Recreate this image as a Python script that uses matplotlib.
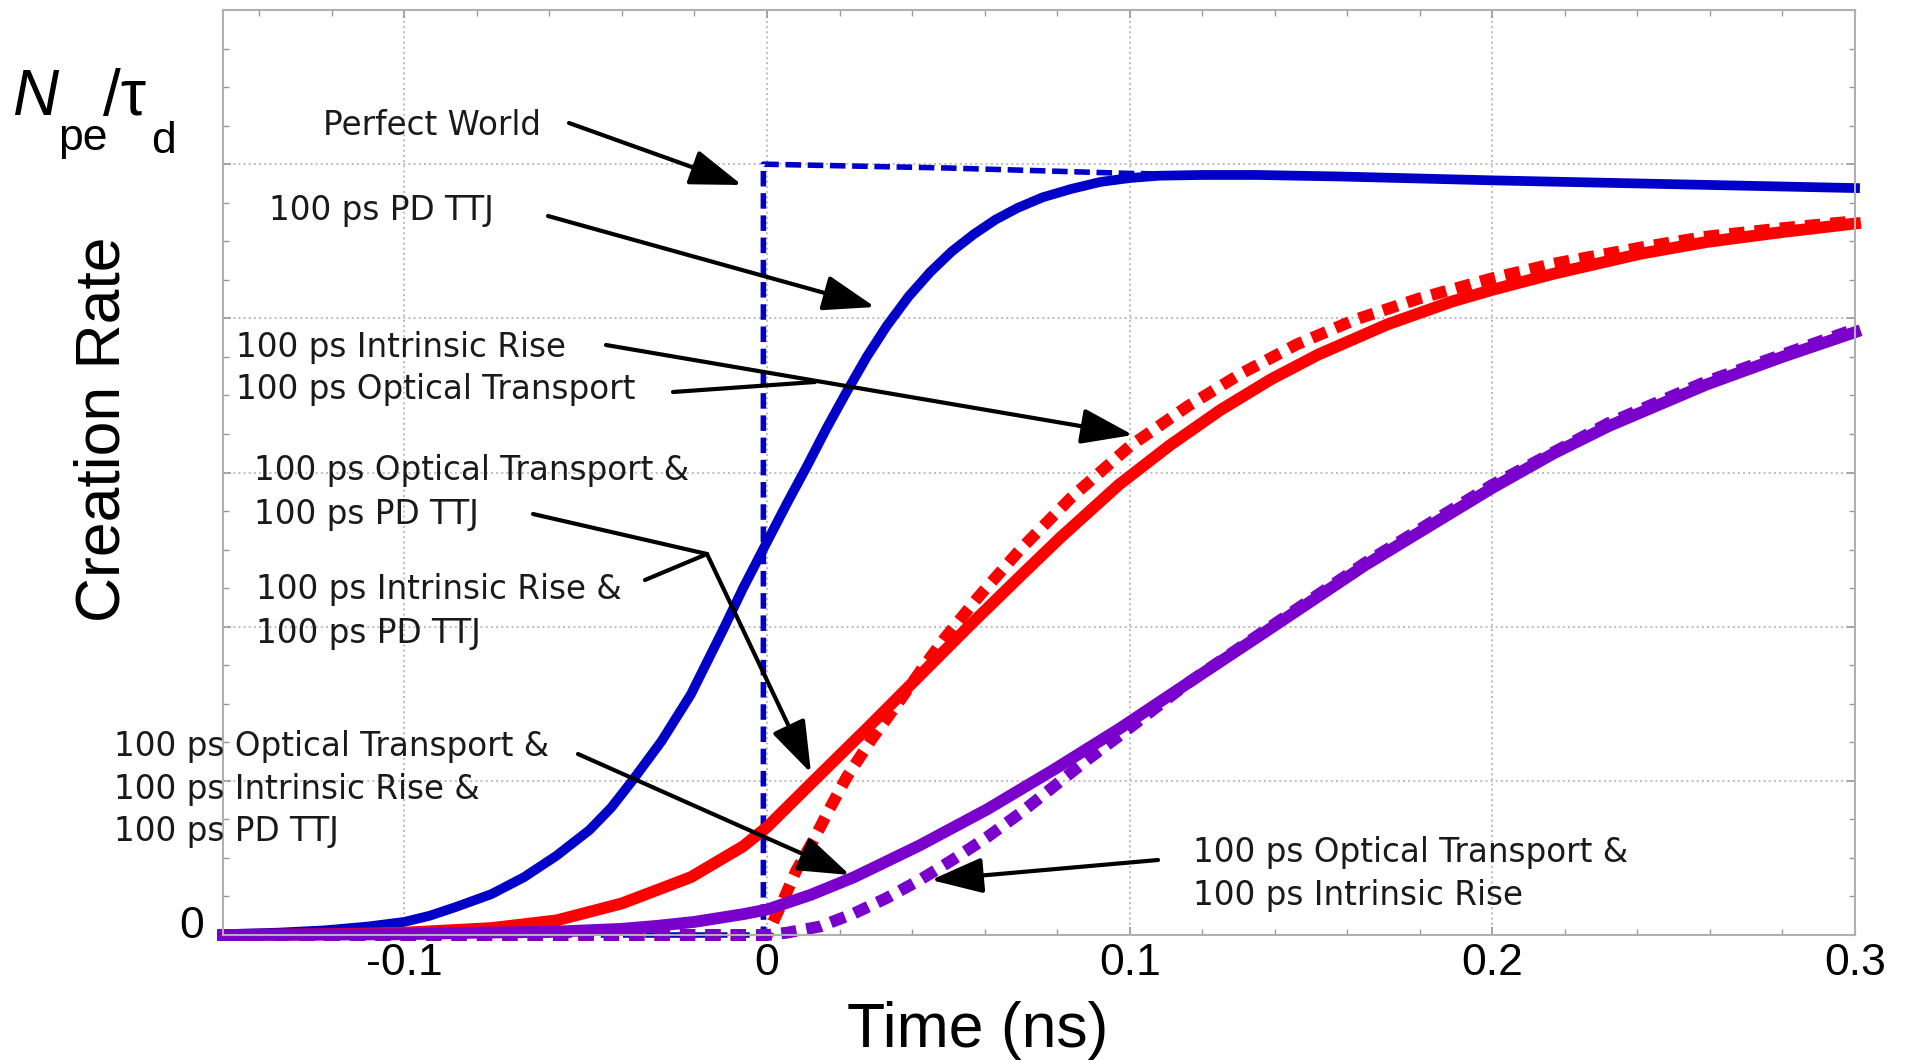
import matplotlib
matplotlib.use("Agg")
import matplotlib.pyplot as plt
from matplotlib.lines import Line2D
from matplotlib.ticker import FixedLocator, FixedFormatter, MultipleLocator
from matplotlib.transforms import ScaledTranslation

plt.rcParams["font.family"] = ["Liberation Sans", "DejaVu Sans"]

# ---- curves (time in ns, rate normalised to N_pe/tau_d) ----
t_perfect = [-0.15, -0.001, -0.001, 0.05, 0.1, 0.15, 0.2, 0.25, 0.3]
rate_perfect = [0.0, 0.0, 1.0, 0.995, 0.988, 0.984, 0.979, 0.974, 0.969]

t_pd = [-0.15, -0.135, -0.122, -0.11, -0.1, -0.093, -0.086, -0.076, -0.067, -0.058,
        -0.049, -0.043, -0.037, -0.029, -0.021, -0.012, -0.0066, 0.0, 0.0055, 0.011,
        0.0165, 0.022, 0.0275, 0.033, 0.039, 0.045, 0.051, 0.057, 0.063, 0.069,
        0.076, 0.084, 0.092, 0.1, 0.108, 0.12, 0.135, 0.158, 0.2, 0.25, 0.3]
rate_pd = [0.001, 0.003, 0.006, 0.011, 0.017, 0.025, 0.036, 0.053, 0.075, 0.103,
           0.136, 0.165, 0.201, 0.252, 0.312, 0.397, 0.45, 0.51, 0.56, 0.608,
           0.658, 0.705, 0.75, 0.79, 0.828, 0.86, 0.887, 0.909, 0.928, 0.943,
           0.957, 0.968, 0.977, 0.982, 0.985, 0.986, 0.986, 0.984, 0.979, 0.974, 0.969]

t_two = [-0.15, -0.12, -0.1, -0.076, -0.058, -0.04, -0.021, -0.0066, 0.0, 0.012,
         0.028, 0.042, 0.056, 0.0706, 0.081, 0.097, 0.111, 0.125, 0.139, 0.152,
         0.171, 0.189, 0.2, 0.217, 0.241, 0.259, 0.28, 0.3]
rate_two = [0.0, 0.001, 0.003, 0.009, 0.019, 0.041, 0.075, 0.115, 0.14, 0.196,
            0.27, 0.336, 0.402, 0.469, 0.516, 0.584, 0.635, 0.681, 0.721, 0.753,
            0.792, 0.822, 0.837, 0.858, 0.884, 0.899, 0.912, 0.923]

t_one = [-0.15, 0.0, 0.004, 0.008, 0.0127, 0.0174, 0.022, 0.029, 0.036, 0.043,
         0.049, 0.058, 0.0698, 0.084, 0.1, 0.116, 0.131, 0.146, 0.162, 0.18,
         0.2, 0.217, 0.241, 0.259, 0.28, 0.3]
rate_one = [0.0, 0.0, 0.04, 0.083, 0.122, 0.165, 0.205, 0.255, 0.3, 0.347,
            0.385, 0.437, 0.5, 0.568, 0.634, 0.686, 0.729, 0.766, 0.798, 0.826,
            0.852, 0.871, 0.892, 0.906, 0.917, 0.926]

t_all = [-0.15, -0.12, -0.1, -0.08, -0.06, -0.05, -0.04, -0.03, -0.02, -0.0066,
         0.0, 0.012, 0.024, 0.042, 0.0607, 0.0789, 0.0973, 0.1158, 0.137, 0.165,
         0.2, 0.217, 0.232, 0.259, 0.28, 0.3]
rate_all = [0.0, 0.0005, 0.001, 0.003, 0.004, 0.006, 0.008, 0.012, 0.017, 0.027,
            0.033, 0.052, 0.075, 0.116, 0.163, 0.214, 0.268, 0.326, 0.392, 0.48,
            0.58, 0.625, 0.66, 0.714, 0.75, 0.782]

t_ot_ir = [-0.15, 0.0, 0.0055, 0.0146, 0.024, 0.033, 0.042, 0.051, 0.0607, 0.0698,
           0.0789, 0.0882, 0.0973, 0.1158, 0.137, 0.165, 0.2, 0.232, 0.259, 0.28, 0.3]
rate_ot_ir = [0.0, 0.0, 0.003, 0.011, 0.028, 0.048, 0.071, 0.097, 0.127, 0.158,
              0.192, 0.227, 0.259, 0.326, 0.394, 0.483, 0.584, 0.664, 0.718, 0.753, 0.786]

x_ticks = [-0.1, 0.0, 0.1, 0.2, 0.3]
x_labels = ["-0.1", "0", "0.1", "0.2", "0.3"]
y_ticks = [0.0, 0.2, 0.4, 0.6, 0.8, 1.0, 1.2]
y_labels = ["0", "", "", "", "", "", ""]

BLUE = "#0000c8"
RED = "#ff0000"
PURPLE = "#7a00cc"

W, H = 1910, 1060


def fig_xy(X, Y):
    # reference pixel position -> figure fraction
    return X / W, 1 - Y / H


fig = plt.figure(figsize=(W / 100, H / 100), dpi=100)
ax = fig.add_axes([223 / W, 1 - 935 / H, (1855 - 223) / W, (935 - 10) / H])

ax.plot(t_pd, rate_pd, color=BLUE, lw=7, clip_on=False, zorder=2)
ax.plot(t_perfect, rate_perfect, color=BLUE, lw=4, ls=(0, (2.8, 1.2)), clip_on=False, zorder=2)
ax.plot(t_two, rate_two, color=RED, lw=8.5, clip_on=False, zorder=2)
ax.plot(t_one, rate_one, color=RED, lw=8.5, ls=(0, (1.3, 0.85)), clip_on=False, zorder=2)
ax.plot(t_all, rate_all, color=PURPLE, lw=8.5, clip_on=False, zorder=2)
ax.plot(t_ot_ir, rate_ot_ir, color=PURPLE, lw=8.5, ls=(0, (1.3, 0.85)), clip_on=False, zorder=2)

ax.set_xlim(-0.15, 0.3)
ax.set_ylim(0, 1.2)
ax.xaxis.set_major_locator(FixedLocator(x_ticks))
ax.xaxis.set_major_formatter(FixedFormatter(x_labels))
ax.xaxis.set_minor_locator(MultipleLocator(0.02))
ax.yaxis.set_major_locator(FixedLocator(y_ticks))
ax.yaxis.set_major_formatter(FixedFormatter(y_labels))
ax.yaxis.set_minor_locator(MultipleLocator(0.05))

ax.grid(True, which="major", ls=":", color="#bcbcbc", lw=1.4)
ax.set_axisbelow(True)
for sp in ax.spines.values():
    sp.set_color("#b0b0b0")
    sp.set_linewidth(1.5)
ax.tick_params(which="both", direction="in", top=True, right=True, color="#999999",
               labelsize=32, labelcolor="black")
ax.tick_params(which="major", length=6, width=1.2)
ax.tick_params(which="minor", length=4, width=1.0)
ax.tick_params(axis="x", pad=6)
ax.tick_params(axis="y", pad=14)
for tick in ax.yaxis.get_major_ticks():
    tick.label1.set_transform(tick.label1.get_transform()
                              + ScaledTranslation(0, 9 / 72, fig.dpi_scale_trans))

# axis titles
fig.text(*fig_xy(847, 1047), "Time (ns)", fontsize=45, ha="left", va="baseline")
fig.text(*fig_xy(103, 429), "Creation Rate", fontsize=45, rotation=90, ha="center", va="center")
fig.text(*fig_xy(12, 115), "N", fontsize=46, style="italic", ha="left", va="baseline")
fig.text(*fig_xy(58, 150), "pe", fontsize=32, ha="left", va="baseline")
fig.text(*fig_xy(103, 115), "/τ", fontsize=46, ha="left", va="baseline")
fig.text(*fig_xy(151, 153), "d", fontsize=32, ha="left", va="baseline")

# annotation labels (left edge, baseline in reference pixels)
notes = [
    ("Perfect World", 323, 135),
    ("100 ps PD TTJ", 269, 220),
    ("100 ps Intrinsic Rise", 236, 357),
    ("100 ps Optical Transport", 236, 399),
    ("100 ps Optical Transport &", 254, 480),
    ("100 ps PD TTJ", 254, 524),
    ("100 ps Intrinsic Rise &", 256, 599),
    ("100 ps PD TTJ", 256, 643),
    ("100 ps Optical Transport &", 114, 756),
    ("100 ps Intrinsic Rise &", 114, 799),
    ("100 ps PD TTJ", 114, 841),
    ("100 ps Optical Transport &", 1193, 862),
    ("100 ps Intrinsic Rise", 1193, 905),
]
for s, X, Y in notes:
    fig.text(*fig_xy(X, Y), s, fontsize=23.5, family="DejaVu Sans", color="#1a1a1a",
             ha="left", va="baseline", zorder=5)

arrows = [
    ((569, 123), (742, 185)),
    ((548, 216), (875, 307)),
    ((606, 345), (1133, 435)),
    ((707, 554), (811, 773)),
    ((578, 754), (850, 875)),
    ((1158, 860), (931, 880)),
]
for start, tip in arrows:
    ax.annotate("", xy=fig_xy(*tip), xytext=fig_xy(*start),
                xycoords="figure fraction", textcoords="figure fraction",
                arrowprops=dict(arrowstyle="-|>,head_length=1.6,head_width=0.55",
                                mutation_scale=20, lw=3, color="black",
                                shrinkA=0, shrinkB=0),
                annotation_clip=False, zorder=4)

# plain connector lines
links = [
    ((673, 392), (815, 382)),
    ((533, 514), (707, 554)),
    ((645, 580), (707, 554)),
]
for (x0, y0), (x1, y1) in links:
    fig.add_artist(Line2D([x0 / W, x1 / W], [1 - y0 / H, 1 - y1 / H],
                          transform=fig.transFigure, lw=3, color="black",
                          solid_capstyle="round", zorder=4))

fig.savefig("out.png", dpi=100)
